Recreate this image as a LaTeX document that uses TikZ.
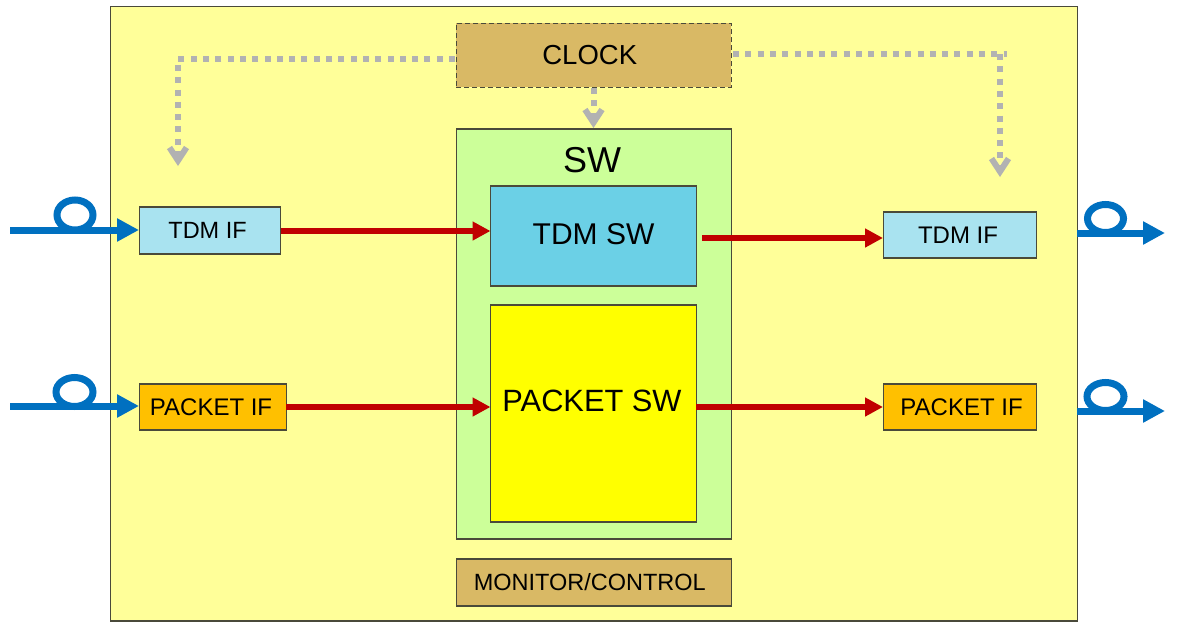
\documentclass[tikz,border=0pt]{standalone}
\usepackage{fontspec}
\setmainfont{Liberation Sans}
\usetikzlibrary{arrows.meta}
\definecolor{frameC}{HTML}{4A4A3A}
\definecolor{chassis}{HTML}{FFFF99}
\definecolor{tan}{HTML}{D9B965}
\definecolor{swgreen}{HTML}{CCFF99}
\definecolor{tdmblue}{HTML}{6BD0E6}
\definecolor{ifblue}{HTML}{A9E3F0}
\definecolor{ifamber}{HTML}{FFC000}
\definecolor{pureyellow}{HTML}{FFFF00}
\definecolor{fiber}{HTML}{0070C0}
\definecolor{sig}{HTML}{C00000}
\definecolor{clk}{HTML}{B2B2B2}
\tikzset{
  x=1pt,y=-1pt,
  boxn/.style={draw=frameC,line width=1.5pt,inner sep=0pt,anchor=north west,text=black},
  sigline/.style={draw=sig,line width=6pt,-{Triangle[length=18pt,width=18pt]}},
  clkdots/.style={draw=clk,line width=6pt,dash pattern=on 6pt off 6.3pt},
  clkline/.style={clkdots,-{Straight Barb[length=13pt,width=17pt,line width=6pt]}},
  fibtip/.style={draw=fiber,line width=7pt,-{Triangle[length=22pt,width=22pt]}},
  loopr/.style={draw=fiber,line width=7pt},
}
\begin{document}
\begin{tikzpicture}
\useasboundingbox (0,0) rectangle (1187,624);
\node[boxn,fill=chassis,minimum width=967pt,minimum height=614.5pt] (chassisbox) at (109.5,5.5) {};
\node[boxn,fill=tan,dash pattern=on 5pt off 3pt,minimum width=275pt,minimum height=64pt,font=\fontsize{27.5}{27.5}\selectfont] (clock) at (455.5,22.5) {\raisebox{-1pt}{CLOCK}\hspace*{8pt}};
\node[boxn,fill=swgreen,minimum width=275pt,minimum height=410pt] (sw) at (455.5,128) {};
\node[font=\fontsize{36}{36}\selectfont] (swlabel) at (592,160) {SW};
\node[boxn,fill=tdmblue,minimum width=206pt,minimum height=100pt,font=\fontsize{30}{30}\selectfont] (tdmsw) at (489.8,185.3) {\raisebox{4pt}{TDM SW}};
\node[boxn,fill=pureyellow,minimum width=206pt,minimum height=217pt] (pktsw) at (489.8,304.3) {};
\node[font=\fontsize{30.8}{30.8}\selectfont] (pktlabel) at (592,401) {PACKET SW};
\node[boxn,fill=tan,minimum width=275pt,minimum height=47pt,font=\fontsize{23.5}{23.5}\selectfont] (monitor) at (455.5,558.3) {\raisebox{1pt}{MONITOR/CONTROL}\hspace*{8pt}};
\node[boxn,fill=ifblue,minimum width=141pt,minimum height=47pt,font=\fontsize{23.5}{23.5}\selectfont] (tdmifL) at (138.8,206.3) {TDM IF\hspace*{5pt}};
\node[boxn,fill=ifamber,minimum width=147pt,minimum height=46pt,font=\fontsize{24}{24}\selectfont] (pktifL) at (138.8,383.3) {PACKET IF\hspace*{4pt}};
\node[boxn,fill=ifblue,minimum width=153pt,minimum height=46pt,font=\fontsize{24}{24}\selectfont] (tdmifR) at (882.8,211.3) {TDM IF\hspace*{4pt}};
\node[boxn,fill=ifamber,minimum width=153pt,minimum height=46pt,font=\fontsize{24}{24}\selectfont] (pktifR) at (882.8,383.3) {\hspace*{3pt}PACKET IF};
% signal paths
\coordinate (a1) at (281,231); \coordinate (a2) at (490.5,231);
\coordinate (b1) at (702,238); \coordinate (b2) at (883,238);
\coordinate (c1) at (286,407); \coordinate (c2) at (490.5,407);
\coordinate (d1) at (696,407); \coordinate (d2) at (883,407);
\draw[sigline] (a1) -- (a2);
\draw[sigline] (b1) -- (b2);
\draw[sigline] (c1) -- (c2);
\draw[sigline] (d1) -- (d2);
% clock paths
\coordinate (cl) at (455,59); \coordinate (clk1) at (178,59); \coordinate (clk2) at (178,166);
\coordinate (cr) at (733,54); \coordinate (crk1) at (1007,54); \coordinate (crk2) at (1000,54); \coordinate (crk3) at (1000,177);
\coordinate (cd) at (593.5,88); \coordinate (cd2) at (593.5,128);
\draw[clkline] (cl) -- (clk1) -- (clk2);
\draw[clkdots] (cr) -- (crk1);
\draw[clkline] (crk2) -- (crk3);
\draw[clkline] (cd) -- (cd2);
% fibres
\coordinate (f1) at (10,230); \coordinate (f2) at (139,230);
\coordinate (f3) at (10,406); \coordinate (f4) at (139,406);
\coordinate (f5) at (1077,233); \coordinate (f6) at (1165,233);
\coordinate (f7) at (1077,411); \coordinate (f8) at (1165,411);
\draw[loopr] (75,215) ellipse [x radius=18,y radius=15];
\draw[loopr] (74.5,392) ellipse [x radius=18.5,y radius=14.5];
\draw[loopr] (1105.5,218.5) ellipse [x radius=18,y radius=14];
\draw[loopr] (1105.5,396.5) ellipse [x radius=18.5,y radius=14];
\draw[fibtip] (f1) -- (f2);
\draw[fibtip] (f3) -- (f4);
\draw[fibtip] (f5) -- (f6);
\draw[fibtip] (f7) -- (f8);
\end{tikzpicture}
\end{document}
